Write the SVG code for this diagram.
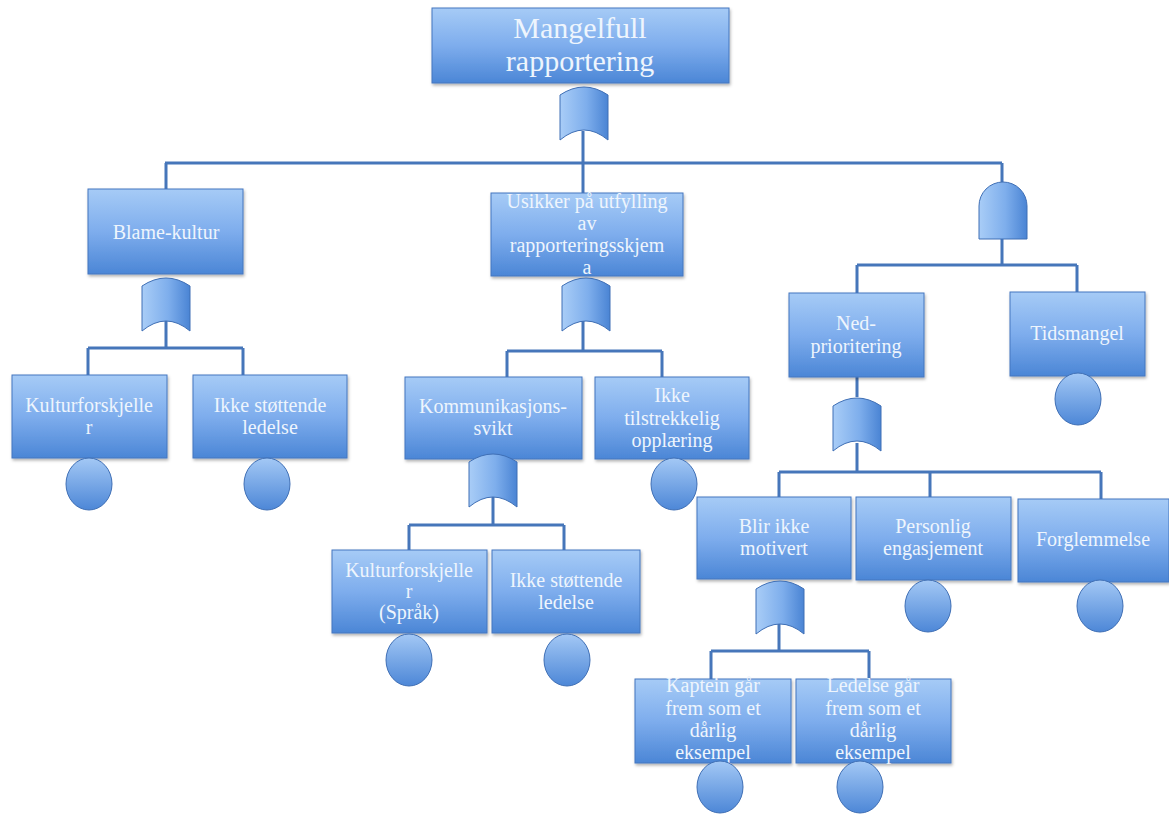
<svg xmlns="http://www.w3.org/2000/svg" width="1169" height="816" viewBox="0 0 1169 816">
<defs>
<linearGradient id="gBox" x1="0" y1="0" x2="0" y2="1">
<stop offset="0" stop-color="#a6cbf6"/>
<stop offset="0.5" stop-color="#7eaded"/>
<stop offset="1" stop-color="#4b86d6"/>
</linearGradient>
<linearGradient id="gGate" x1="0" y1="0" x2="1" y2="0">
<stop offset="0" stop-color="#a9cdf7"/>
<stop offset="0.55" stop-color="#7eaeec"/>
<stop offset="1" stop-color="#4a84d4"/>
</linearGradient>
<linearGradient id="gEvt" x1="0" y1="0" x2="0" y2="1">
<stop offset="0" stop-color="#a3c8f5"/>
<stop offset="1" stop-color="#4d87d7"/>
</linearGradient>
<filter id="sh" x="-10%" y="-10%" width="130%" height="130%">
<feDropShadow dx="1" dy="2" stdDeviation="1.5" flood-color="#000" flood-opacity="0.3"/>
</filter>
<path id="orGate" d="M0,9 Q24,-7 48,9 L48,54 Q24,34 0,54 Z"/>
<path id="andGate" d="M0,57 L0,24 A24,24 0 0 1 48,24 L48,57 Z"/>
</defs>
<style>
.box{fill:url(#gBox);stroke:#4576bf;stroke-width:1;filter:url(#sh)}
.gate{fill:url(#gGate);stroke:#3f6fb5;stroke-width:1}
.evt{fill:url(#gEvt);stroke:#3f6fb5;stroke-width:1}
.conn{stroke:#4676ba;stroke-width:3;fill:none}
text{font-family:"Liberation Serif","DejaVu Serif",serif;font-size:20px;fill:#eef5fd;text-anchor:middle}
.big{font-size:30px}
</style>
<rect width="1169" height="816" fill="#ffffff"/>
<g id="connectors">
<path class="conn" d="M583,131 V163 M165,163 H1002 M166,163 V189 M583,163 V193 M1002,163 V182"/>
<path class="conn" d="M166,320 V348 M88,348 H243 M88,348 V375 M243,348 V375"/>
<path class="conn" d="M583,318 V351 M507,351 H662 M507,351 V377 M662,351 V377"/>
<path class="conn" d="M1002,239 V265 M857,265 H1077 M857,265 V293 M1077,265 V292"/>
<path class="conn" d="M493,497 V525 M409,525 H564 M409,525 V550 M564,525 V550"/>
<path class="conn" d="M857,377 V397 M857,443 V472 M779,472 H1101 M779,472 V497 M930,472 V497 M1101,472 V499"/>
<path class="conn" d="M779,624 V651 M711,651 H869 M711,651 V679 M869,651 V679"/>
</g>
<g id="n-top"><rect class="box" x="432" y="8" width="297" height="75"/><text class="big" x="580" y="38">Mangelfull</text><text class="big" x="580" y="71">rapportering</text></g>
<g id="g-top"><use href="#orGate" class="gate" x="560" y="86"/></g>
<g id="n-blame"><rect class="box" x="88" y="189" width="155" height="85"/><text x="166" y="239">Blame-kultur</text></g>
<g id="g-blame"><use href="#orGate" class="gate" x="142" y="277"/></g>
<g id="n-kultur1"><rect class="box" x="12" y="375" width="155" height="83"/><text x="89" y="412">Kulturforskjelle</text><text x="89" y="434">r</text></g>
<g id="n-ikke1"><rect class="box" x="193" y="375" width="154" height="83"/><text x="270" y="412">Ikke støttende</text><text x="270" y="434">ledelse</text></g>
<g id="e-kultur1"><ellipse class="evt" cx="89" cy="484" rx="23" ry="26"/></g>
<g id="e-ikke1"><ellipse class="evt" cx="267" cy="484" rx="23" ry="26"/></g>
<g id="n-usikker"><rect class="box" x="491" y="193" width="192" height="83"/><text x="587" y="208">Usikker på utfylling</text><text x="587" y="230">av</text><text x="587" y="252">rapporteringsskjem</text><text x="587" y="274">a</text></g>
<g id="g-usikker"><use href="#orGate" class="gate" x="562" y="277"/></g>
<g id="n-komm"><rect class="box" x="405" y="377" width="177" height="82"/><text x="493" y="413">Kommunikasjons-</text><text x="493" y="435">svikt</text></g>
<g id="n-opplaering"><rect class="box" x="595" y="377" width="154" height="82"/><text x="672" y="402">Ikke</text><text x="672" y="425">tilstrekkelig</text><text x="672" y="447">opplæring</text></g>
<g id="e-opplaering"><ellipse class="evt" cx="674" cy="484" rx="23" ry="26"/></g>
<g id="g-komm"><use href="#orGate" class="gate" x="469" y="453"/></g>
<g id="n-kultur2"><rect class="box" x="332" y="550" width="155" height="83"/><text x="409" y="577">Kulturforskjelle</text><text x="409" y="598">r</text><text x="409" y="619">(Språk)</text></g>
<g id="n-ikke2"><rect class="box" x="492" y="550" width="148" height="83"/><text x="566" y="587">Ikke støttende</text><text x="566" y="609">ledelse</text></g>
<g id="e-kultur2"><ellipse class="evt" cx="409" cy="660" rx="23" ry="26"/></g>
<g id="e-ikke2"><ellipse class="evt" cx="567" cy="660" rx="23" ry="26"/></g>
<g id="g-and"><use href="#andGate" class="gate" x="979" y="182"/></g>
<g id="n-ned"><rect class="box" x="789" y="293" width="135" height="84"/><text x="856" y="330">Ned-</text><text x="856" y="353">prioritering</text></g>
<g id="n-tids"><rect class="box" x="1010" y="292" width="135" height="84"/><text x="1077" y="340">Tidsmangel</text></g>
<g id="e-tids"><ellipse class="evt" cx="1078" cy="399" rx="23" ry="26"/></g>
<g id="g-ned"><use href="#orGate" class="gate" x="833" y="397"/></g>
<g id="n-blir"><rect class="box" x="697" y="497" width="154" height="82"/><text x="774" y="533">Blir ikke</text><text x="774" y="555">motivert</text></g>
<g id="n-personlig"><rect class="box" x="856" y="497" width="155" height="83"/><text x="933" y="533">Personlig</text><text x="933" y="555">engasjement</text></g>
<g id="n-forglem"><rect class="box" x="1018" y="499" width="151" height="83"/><text x="1093" y="546">Forglemmelse</text></g>
<g id="e-personlig"><ellipse class="evt" cx="928" cy="606" rx="23" ry="26"/></g>
<g id="e-forglem"><ellipse class="evt" cx="1100" cy="606" rx="23" ry="26"/></g>
<g id="g-blir"><use href="#orGate" class="gate" x="756" y="580"/></g>
<g id="n-kaptein"><rect class="box" x="635" y="679" width="156" height="84"/><text x="713" y="692">Kaptein går</text><text x="713" y="715">frem som et</text><text x="713" y="737">dårlig</text><text x="713" y="759">eksempel</text></g>
<g id="n-ledelse"><rect class="box" x="796" y="679" width="155" height="84"/><text x="873" y="692">Ledelse går</text><text x="873" y="715">frem som et</text><text x="873" y="737">dårlig</text><text x="873" y="759">eksempel</text></g>
<g id="e-kaptein"><ellipse class="evt" cx="720" cy="787" rx="23" ry="26"/></g>
<g id="e-ledelse"><ellipse class="evt" cx="860" cy="787" rx="23" ry="26"/></g>
</svg>
